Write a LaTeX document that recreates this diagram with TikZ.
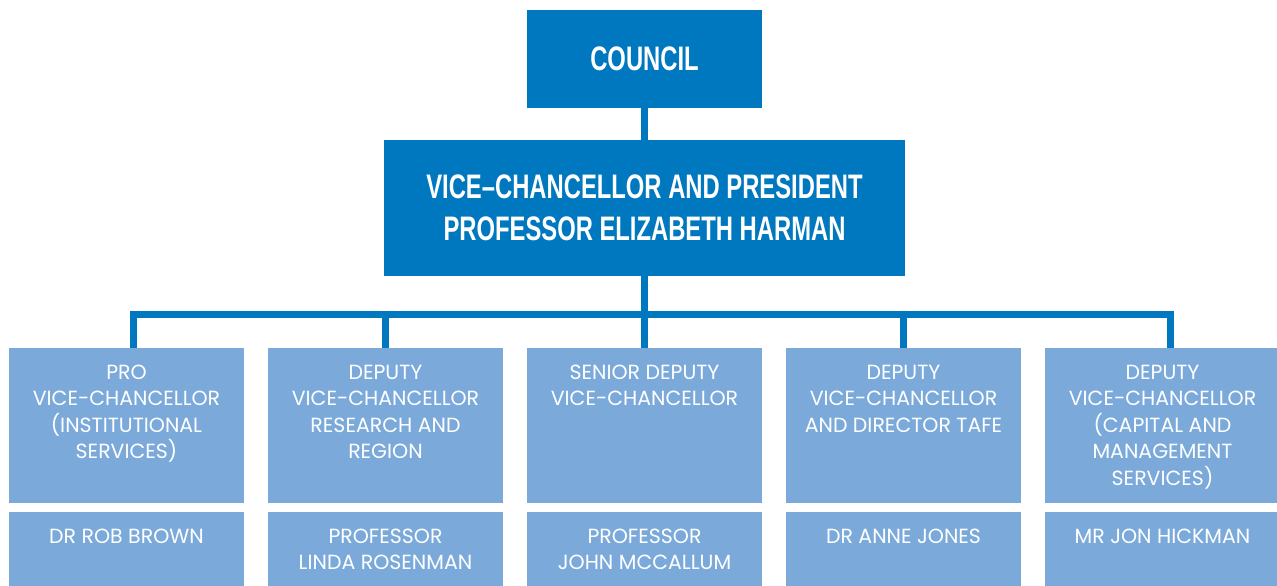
\documentclass[tikz,border=0pt]{standalone}
\usepackage{fontspec}
\setmainfont{Poppins}
\newfontfamily\headfont[FakeStretch=0.70,Ligatures=TeX]{Liberation Sans}
\usetikzlibrary{positioning}
\definecolor{darkblue}{HTML}{0078BF}
\definecolor{lightblue}{HTML}{7BAADA}

\begin{document}
\begin{tikzpicture}[x=1pt,y=-1pt,
  topbox/.style={fill=darkblue,text=white,inner sep=0,align=center,
    font=\headfont\bfseries\fontsize{34}{42}\selectfont},
  rolebox/.style={fill=lightblue,minimum width=235pt,minimum height=155pt,inner sep=0},
  namebox/.style={fill=lightblue,minimum width=235pt,minimum height=74pt,inner sep=0},
  boxtext/.style={text=white,inner sep=0,align=center,anchor=north,
    font=\fontsize{20.5}{26.5}\selectfont},
  link/.style={draw=darkblue,line width=7pt,line join=miter}]
  \useasboundingbox (0,0) rectangle (1277,586);

  % top of the chart
  \node[topbox,minimum width=235pt,minimum height=98pt] (council) at (644.5,59) {COUNCIL};
  \node[topbox,minimum width=521pt,minimum height=136pt] (vc) at (644.5,208)
    {VICE\textendash CHANCELLOR AND PRESIDENT\\PROFESSOR ELIZABETH HARMAN};

  % roles and names
  \foreach \i/\role/\who in {
    1/{PRO\\VICE-CHANCELLOR\\(INSTITUTIONAL\\SERVICES)}/{DR ROB BROWN},
    2/{DEPUTY\\VICE-CHANCELLOR\\RESEARCH AND\\REGION}/{PROFESSOR\\LINDA ROSENMAN},
    3/{SENIOR DEPUTY\\VICE-CHANCELLOR}/{PROFESSOR\\JOHN MCCALLUM},
    4/{DEPUTY\\VICE-CHANCELLOR\\AND DIRECTOR TAFE}/{DR ANNE JONES},
    5/{DEPUTY\\VICE-CHANCELLOR\\(CAPITAL AND\\MANAGEMENT\\SERVICES)}/{MR JON HICKMAN}} {
    \node[rolebox] (role\i) at (126.5+259*\i-259,425.5) {};
    \node[namebox] (name\i) at (126.5+259*\i-259,549) {};
    \node[boxtext] (roletext\i) at ([yshift=-17pt]role\i.north) {\role};
    \node[boxtext] (nametext\i) at ([yshift=-17pt]name\i.north) {\who};
  }

  % connectors
  \coordinate (bus) at (644.5,314);
  \draw[link] (council) -- (vc);
  \draw[link] (vc) -- (bus);
  \foreach \i/\dx in {1/7,2/0,3/0,4/0,5/8} {
    \draw[link] (bus) -| ([xshift=\dx pt]role\i.north);
  }
\end{tikzpicture}
\end{document}
